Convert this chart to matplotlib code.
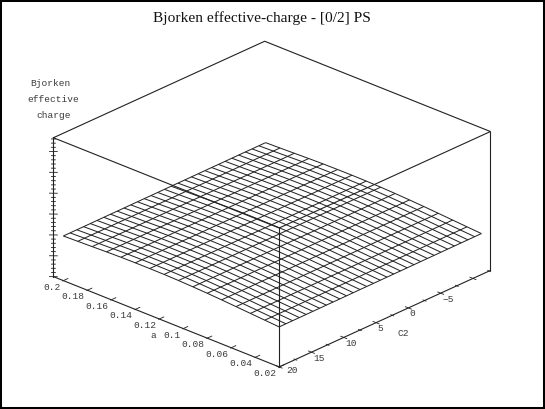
import numpy as np
import matplotlib
matplotlib.use('Agg')
import matplotlib.pyplot as plt
from matplotlib.patches import Rectangle
from mpl_toolkits.mplot3d import proj3d

a_vals = [0.02, 0.032, 0.044, 0.056, 0.068, 0.08, 0.092, 0.104, 0.116, 0.128, 0.14, 0.152, 0.164, 0.176, 0.188, 0.2]
c2_vals = [-11.3, -10.26, -9.21, -8.17, -7.13, -6.08, -5.04, -4.0, -2.95, -1.91, -0.87, 0.18, 1.22, 2.27, 3.31, 4.35,
           5.4, 6.44, 7.48, 8.53, 9.57, 10.61, 11.66, 12.7, 13.74, 14.79, 15.83, 16.87, 17.92, 18.96, 20]

# charge x 1e4, one row per a value, C2 ascending
charge_e4 = [
    [983, 982, 981, 981, 980, 979, 978, 977, 977, 976, 975, 974, 973, 973, 972, 971, 970, 969, 969, 968, 967, 966, 965, 965, 964, 963, 962, 961, 961, 960, 959],
    [1007, 1006, 1005, 1005, 1004, 1003, 1002, 1001, 1001, 1000, 999, 998, 997, 997, 996, 995, 994, 993, 993, 992, 991, 990, 989, 989, 988, 987, 986, 985, 985, 984, 983],
    [1031, 1030, 1029, 1029, 1028, 1027, 1026, 1025, 1025, 1024, 1023, 1022, 1021, 1021, 1020, 1019, 1018, 1017, 1017, 1016, 1015, 1014, 1013, 1013, 1012, 1011, 1010, 1009, 1009, 1008, 1007],
    [1056, 1055, 1054, 1054, 1053, 1052, 1051, 1050, 1050, 1049, 1048, 1047, 1046, 1046, 1045, 1044, 1043, 1042, 1042, 1041, 1040, 1039, 1038, 1038, 1037, 1036, 1035, 1034, 1034, 1033, 1032],
    [1080, 1079, 1078, 1078, 1077, 1076, 1075, 1074, 1074, 1073, 1072, 1071, 1070, 1070, 1069, 1068, 1067, 1066, 1066, 1065, 1064, 1063, 1062, 1062, 1061, 1060, 1059, 1058, 1058, 1057, 1056],
    [1100, 1099, 1098, 1098, 1097, 1096, 1095, 1094, 1094, 1093, 1092, 1091, 1090, 1090, 1089, 1088, 1087, 1086, 1086, 1085, 1084, 1083, 1082, 1082, 1081, 1080, 1079, 1078, 1078, 1077, 1076],
    [1117, 1116, 1115, 1115, 1114, 1113, 1112, 1111, 1111, 1110, 1109, 1108, 1107, 1107, 1106, 1105, 1104, 1103, 1103, 1102, 1101, 1100, 1099, 1099, 1098, 1097, 1096, 1095, 1095, 1094, 1093],
    [1130, 1129, 1128, 1128, 1127, 1126, 1125, 1124, 1124, 1123, 1122, 1121, 1120, 1120, 1119, 1118, 1117, 1116, 1116, 1115, 1114, 1113, 1112, 1112, 1111, 1110, 1109, 1108, 1108, 1107, 1106],
    [1138, 1137, 1136, 1136, 1135, 1134, 1133, 1132, 1132, 1131, 1130, 1129, 1128, 1128, 1127, 1126, 1125, 1124, 1124, 1123, 1122, 1121, 1120, 1120, 1119, 1118, 1117, 1116, 1116, 1115, 1114],
    [1141, 1140, 1139, 1139, 1138, 1137, 1136, 1135, 1135, 1134, 1133, 1132, 1131, 1131, 1130, 1129, 1128, 1127, 1127, 1126, 1125, 1124, 1123, 1123, 1122, 1121, 1120, 1119, 1119, 1118, 1117],
    [1140, 1139, 1138, 1138, 1137, 1136, 1135, 1134, 1134, 1133, 1132, 1131, 1130, 1130, 1129, 1128, 1127, 1126, 1126, 1125, 1124, 1123, 1122, 1122, 1121, 1120, 1119, 1118, 1118, 1117, 1116],
    [1136, 1135, 1134, 1134, 1133, 1132, 1131, 1130, 1130, 1129, 1128, 1127, 1126, 1126, 1125, 1124, 1123, 1122, 1122, 1121, 1120, 1119, 1118, 1118, 1117, 1116, 1115, 1114, 1114, 1113, 1112],
    [1127, 1126, 1125, 1125, 1124, 1123, 1122, 1121, 1121, 1120, 1119, 1118, 1117, 1117, 1116, 1115, 1114, 1113, 1113, 1112, 1111, 1110, 1109, 1109, 1108, 1107, 1106, 1105, 1105, 1104, 1103],
    [1115, 1114, 1113, 1113, 1112, 1111, 1110, 1109, 1109, 1108, 1107, 1106, 1105, 1105, 1104, 1103, 1102, 1101, 1101, 1100, 1099, 1098, 1097, 1097, 1096, 1095, 1094, 1093, 1093, 1092, 1091],
    [1104, 1103, 1102, 1102, 1101, 1100, 1099, 1098, 1098, 1097, 1096, 1095, 1094, 1094, 1093, 1092, 1091, 1090, 1090, 1089, 1088, 1087, 1086, 1086, 1085, 1084, 1083, 1082, 1082, 1081, 1080],
    [1094, 1093, 1092, 1092, 1091, 1090, 1089, 1088, 1088, 1087, 1086, 1085, 1084, 1084, 1083, 1082, 1081, 1080, 1080, 1079, 1078, 1077, 1076, 1076, 1075, 1074, 1073, 1072, 1072, 1071, 1070],
]

a_ticks = [0.2, 0.18, 0.16, 0.14, 0.12, 0.1, 0.08, 0.06, 0.04, 0.02]
a_labels = ['0.2', '0.18', '0.16', '0.14', '0.12', '0.1', '0.08', '0.06', '0.04', '0.02']
c2_ticks = [20, 15, 10, 5, 0, -5, -10]
c2_labels = ['20', '15', '10', '5', '0', '\u22125', '\u221210']
c2_minor = [17.5, 12.5, 7.5, 2.5, -2.5, -7.5, -12.5]
z_ticks = [0, 0.05, 0.1, 0.15, 0.2, 0.25, 0.3]
z_labels = ['0', '0.05', '0.1', '0.15', '0.2', '0.25', '0.3']
z_minor = [0.01, 0.02, 0.03, 0.04, 0.06, 0.07, 0.08, 0.09, 0.11, 0.12, 0.13, 0.14, 0.16, 0.17, 0.18, 0.19,
           0.21, 0.22, 0.23, 0.24, 0.26, 0.27, 0.28, 0.29, 0.31, 0.32, 0.33]

a_lim = (0.02, 0.2083)
c2_lim = (-12.7, 20)
z_lim = (0, 0.333)
line_col = '#222222'
text_col = '#3a3a3a'

fig = plt.figure(figsize=(5.45, 4.09), dpi=100)
ax = fig.add_axes([-0.0112, -0.0125, 1.0, 1.0], projection='3d', proj_type='ortho')
ax.set_axis_off()
ax.patch.set_alpha(0)
ax.view_init(elev=25.3, azim=133.1)
ax.set_box_aspect((1, 1, 0.497), zoom=1.1)
ax.set_xlim(*a_lim)
ax.set_ylim(*c2_lim)
ax.set_zlim(*z_lim)

A, C = np.meshgrid(a_vals, c2_vals, indexing='ij')
Z = np.array(charge_e4) / 1e4
ax.plot_wireframe(A, C, Z, color=line_col, linewidth=0.72)

# Box edges (the back ones on the floor are not drawn)
box_kw = dict(color=line_col, linewidth=0.8)
a0, a1 = a_lim
c0, c1 = c2_lim
z0, z1 = z_lim
ax.plot([a1, a1], [c1, c1], [z0, z1], **box_kw)
ax.plot([a0, a0], [c1, c1], [z0, z1], **box_kw)
ax.plot([a0, a0], [c0, c0], [z0, z1], **box_kw)
ax.plot([a1, a0], [c1, c1], [z0, z0], **box_kw)
ax.plot([a0, a0], [c1, c0], [z0, z0], **box_kw)
ax.plot([a1, a1, a0, a0, a1], [c1, c0, c0, c1, c1], [z1, z1, z1, z1, z1], **box_kw)

# Ticks
tick_kw = dict(color=line_col, linewidth=0.6)
for t in a_ticks:
    ax.plot([t, t], [c1 + 0.1, c1 - 0.7], [z0, z0], **tick_kw)
for t in c2_ticks:
    ax.plot([a0 - 0.0025, a0 + 0.0025], [t, t], [z0, z0], **tick_kw)
for t in c2_minor:
    ax.plot([a0 - 0.0012, a0 + 0.0012], [t, t], [z0, z0], **tick_kw)
# a move of (0.00178, 0.275) in (a, C2) is 4 px sideways on screen
for t in z_ticks:
    ax.plot([a1 + 0.00178, a1 - 0.00178], [c1 + 0.275, c1 - 0.275], [t, t], **tick_kw)
for t in z_minor:
    ax.plot([a1 + 0.0009, a1 - 0.0009], [c1 + 0.14, c1 - 0.14], [t, t], **tick_kw)

# The box is wider than the square 3d axes, so nothing may clip to them
for artist in ax.lines + list(ax.collections):
    artist.set_clip_on(False)


def tick_label(a, c, z, s, dx, dy, ha):
    x, y, _ = proj3d.proj_transform(a, c, z, ax.get_proj())
    ax.annotate(s, (x, y), xytext=(dx, dy), textcoords='offset pixels', ha=ha, va='center',
                family='Liberation Mono', fontsize=6.8, color=text_col)


for t, s in zip(a_ticks, a_labels):
    tick_label(t, c1, z0, s, -3, -6.5, 'right')
for t, s in zip(c2_ticks, c2_labels):
    tick_label(a0, t, z0, s, 7 if t == 20 else 1.5, -4 if t == 20 else -6, 'left')
for t, s in zip(z_ticks, z_labels):
    tick_label(a1, c1, t, s, -4.5, 0, 'right')

W, H = 545, 409
mono = dict(family='Liberation Mono', fontsize=6.8, color=text_col, ha='center', va='center')
fig.text(50 / W, 1 - 83.5 / H, 'Bjorken', **mono)
fig.text(53.7 / W, 1 - 99.7 / H, 'effective', **mono)
fig.text(54 / W, 1 - 115.7 / H, 'charge', **mono)
fig.text(153.3 / W, 1 - 335.7 / H, 'a', **mono)
fig.text(403.3 / W, 1 - 333.3 / H, 'C2', **mono)
fig.text(262 / W, 1 - 18 / H, 'Bjorken effective-charge - [0/2] PS', family='Liberation Serif',
         fontsize=11.1, color='#111111', ha='center', va='center')

# Black frame round the whole picture
fig.add_artist(Rectangle((0, 0), 1, 1, transform=fig.transFigure, fill=False, edgecolor='black', linewidth=2.9))

fig.savefig('out.png', dpi=100)
